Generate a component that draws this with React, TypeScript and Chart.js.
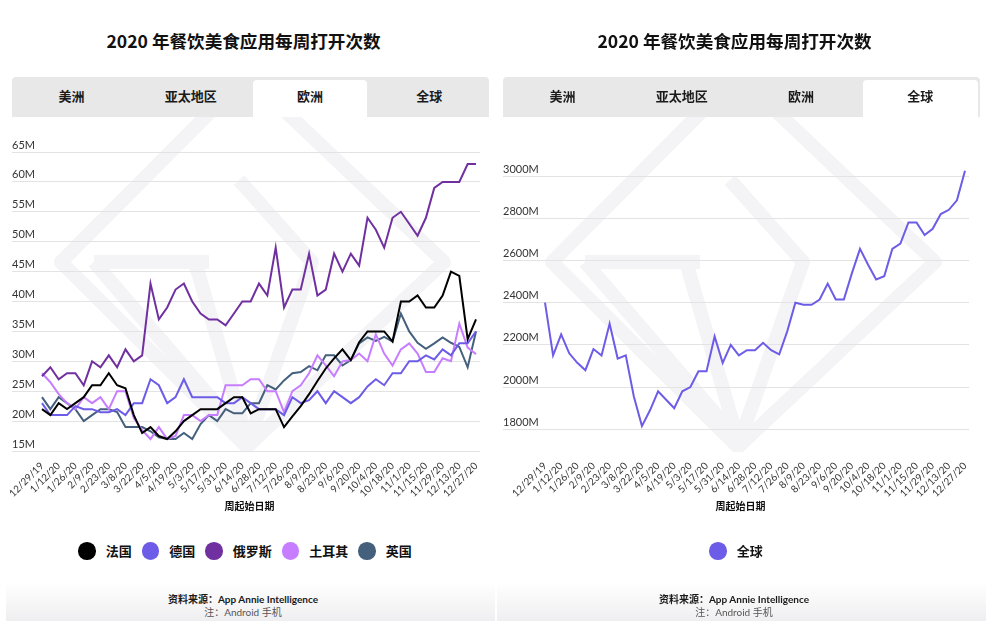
import React, { useEffect, useRef } from "react";
import { Chart, registerables } from "chart.js";

Chart.register(...registerables);

// Week-start dates (every Sunday of 2020)
const weeks = [
  "12/29/19", "1/5/20", "1/12/20", "1/19/20", "1/26/20", "2/2/20", "2/9/20", "2/16/20", "2/23/20", "3/1/20",
  "3/8/20", "3/15/20", "3/22/20", "3/29/20", "4/5/20", "4/12/20", "4/19/20", "4/26/20", "5/3/20", "5/10/20",
  "5/17/20", "5/24/20", "5/31/20", "6/7/20", "6/14/20", "6/21/20", "6/28/20", "7/5/20", "7/12/20", "7/19/20",
  "7/26/20", "8/2/20", "8/9/20", "8/16/20", "8/23/20", "8/30/20", "9/6/20", "9/13/20", "9/20/20", "9/27/20",
  "10/4/20", "10/11/20", "10/18/20", "10/25/20", "11/1/20", "11/8/20", "11/15/20", "11/22/20", "11/29/20", "12/6/20",
  "12/13/20", "12/20/20", "12/27/20",
];

// Weekly opens, millions (Europe)
const franceOpens = [
  22, 21, 23, 22, 23, 24, 26, 26, 28, 26,
  25.5, 21, 18, 19, 17.5, 17, 18.3, 20, 21, 22,
  22, 22, 23, 24, 24, 21.3, 22, 22, 22, 19,
  20.8, 22.5, 24.5, 26.7, 28.8, 30.5, 32, 30.2, 33.2, 35,
  35, 35, 33.3, 40, 40, 41, 39, 39, 41, 45,
  44.3, 33.7, 37,
];
const germanyOpens = [
  23, 21, 21, 21, 22.5, 22, 22, 21.5, 21.5, 22,
  21, 23, 23, 27, 26, 23, 24, 27, 24, 24,
  24, 24, 23, 23, 24, 23, 22, 22, 22, 21,
  24, 23, 23.5, 25, 23, 25, 24, 23, 24, 25.8,
  27, 26, 28, 28, 30, 30, 31, 30.3, 32, 31,
  33, 33, 35,
];
const russiaOpens = [
  27.5, 29, 27, 28, 28, 26, 30, 29, 31, 29,
  32, 30, 31, 43, 37, 39, 42, 43, 40, 38,
  37, 37, 36, 38, 40, 40, 43, 41, 49, 39,
  42, 42, 48, 41, 42, 48, 45, 48, 46, 54,
  52, 49, 54, 55, 53, 51, 54, 59, 60, 60,
  60, 63, 63,
];
const turkeyOpens = [
  28, 26.5, 24.5, 23, 22, 24, 23, 24, 22, 25,
  25, 20.5, 18.5, 17, 19, 17, 17.5, 21, 21, 20,
  21, 21, 26, 26, 26, 27, 27, 25, 25, 21.5,
  25, 26, 28, 31, 29.3, 27.5, 30, 30.2, 31.3, 30,
  34.5, 31.3, 29.3, 32, 33, 31.3, 28.2, 28.2, 30.5, 30,
  36.3, 32.3, 31.2,
];
const ukOpens = [
  24, 22, 24, 23, 22, 20, 21, 22, 22, 21.5,
  19, 19, 19, 18.3, 17.3, 17, 17, 18, 17, 19.5,
  21, 20, 22, 21.3, 21.3, 23, 23, 26, 25.3, 26.8,
  28, 28.2, 29.2, 28.5, 31, 31, 29.3, 30.2, 33, 34,
  33.4, 34.1, 33.3, 38, 35, 33.1, 32.1, 33, 34, 33.1,
  32.4, 29, 35,
];

// Weekly opens, millions (worldwide)
const globalOpens = [
  2400, 2150, 2250, 2160, 2115, 2080, 2180, 2150, 2300, 2135,
  2150, 1955, 1815, 1890, 1980, 1940, 1900, 1980, 2000, 2075,
  2075, 2240, 2115, 2200, 2150, 2175, 2175, 2210, 2175, 2155,
  2265, 2400, 2390, 2390, 2415, 2490, 2415, 2415, 2540, 2655,
  2580, 2510, 2525, 2655, 2680, 2780, 2780, 2720, 2750, 2820,
  2840, 2885, 3025,
];

const europeTicks = [15, 20, 25, 30, 35, 40, 45, 50, 55, 60, 65];
const globalTicks = [1800, 2000, 2200, 2400, 2600, 2800, 3000];

const regionTabs = ["美洲", "亚太地区", "欧洲", "全球"];

const TITLE = "2020 年餐饮美食应用每周打开次数";
const X_TITLE = "周起始日期";
const SOURCE = "资料来源：App Annie Intelligence";
const NOTE = "注：Android 手机";

const LATIN = 'Lato, "Noto Sans CJK SC", sans-serif';
const CJK = '"Noto Sans CJK SC", Lato, sans-serif';

type Series = { label: string; color: string; data: number[] };

const europeSeries: Series[] = [
  { label: "法国", color: "#000000", data: franceOpens },
  { label: "德国", color: "#6c5ce7", data: germanyOpens },
  { label: "俄罗斯", color: "#7030a0", data: russiaOpens },
  { label: "土耳其", color: "#c77dff", data: turkeyOpens },
  { label: "英国", color: "#44607c", data: ukOpens },
];
const globalSeries: Series[] = [{ label: "全球", color: "#6c5ce7", data: globalOpens }];

const GRID = "#e3e3e3";

function setTicks(values: number[]) {
  return (scale: any) => {
    scale.ticks = values.map((v) => ({ value: v }));
  };
}

type ChartProps = {
  series: Series[];
  min: number;
  max: number;
  ticks: number[];
  axisWidth: number;
  padLeft: number;
  padRight: number;
};

function WeeklyChart({ series, min, max, ticks, axisWidth, padLeft, padRight }: ChartProps) {
  const ref = useRef<HTMLCanvasElement>(null);

  useEffect(() => {
    const chart = new Chart(ref.current as HTMLCanvasElement, {
      type: "line",
      data: {
        labels: weeks,
        datasets: series.map((s) => ({
          label: s.label,
          data: s.data,
          borderColor: s.color,
          backgroundColor: s.color,
          borderWidth: 2,
          pointRadius: 0,
          tension: 0,
          fill: false,
        })),
      },
      options: {
        responsive: false,
        animation: false,
        events: [],
        layout: { padding: { left: padLeft, right: padRight, top: 32, bottom: 9 } },
        plugins: { legend: { display: false }, tooltip: { enabled: false } },
        scales: {
          x: {
            type: "category",
            grid: { display: false },
            border: { display: false },
            ticks: {
              autoSkip: false,
              minRotation: 45,
              maxRotation: 45,
              padding: 1,
              color: "#333",
              font: { family: LATIN, size: 10 },
              callback: (_v: any, i: number) => (i % 2 === 0 ? weeks[i] : ""),
            },
            afterFit: (scale: any) => {
              scale.height = 60;
            },
          },
          y: {
            type: "linear",
            position: "left",
            min,
            max,
            afterBuildTicks: setTicks(ticks),
            grid: { color: GRID, lineWidth: 1, drawTicks: true, tickLength: axisWidth },
            border: { display: false },
            ticks: {
              crossAlign: "far",
              labelOffset: -7,
              padding: 0,
              color: "#333",
              font: { family: LATIN, size: 11 },
              callback: (v: any) => `${v}M`,
            },
            afterFit: (scale: any) => {
              scale.width = axisWidth;
            },
          },
          yEdge: {
            type: "linear",
            position: "right",
            min,
            max,
            afterBuildTicks: setTicks(ticks),
            grid: { color: GRID, lineWidth: 1, drawOnChartArea: false, drawTicks: true, tickLength: 4 },
            border: { display: false },
            ticks: { display: false },
            afterFit: (scale: any) => {
              scale.width = 4;
            },
          },
        },
      } as any,
    });
    return () => chart.destroy();
  }, [series, min, max, ticks, axisWidth, padLeft, padRight]);

  return (
    <canvas
      ref={ref}
      width={492}
      height={400}
      style={{ position: "absolute", left: 0, top: 120, width: 492, height: 400 }}
    />
  );
}

// Faint gem-shaped brand mark behind the plot
function GemMark() {
  return (
    <svg
      width={492}
      height={335}
      viewBox="0 117 492 335"
      style={{ position: "absolute", left: 0, top: 117 }}
    >
      <g fill="none" stroke="#f4f4f6" strokeWidth={14} strokeLinejoin="round">
        <polygon points="247,75 444,262 247,447 61,262" />
        <polyline points="94,262 209,262" />
        <polyline points="94,262 247,440 195,262" />
        <polyline points="239,180 312,262 249,440" />
      </g>
    </svg>
  );
}

function Tabs({ active }: { active: number }) {
  const w = 477 / regionTabs.length;
  return (
    <div
      style={{
        position: "absolute",
        left: 12,
        top: 77,
        width: 477,
        height: 40,
        background: "#e8e8e8",
        borderRadius: "4px 4px 0 0",
      }}
    >
      <div
        style={{
          position: "absolute",
          left: active * w + 2.5,
          top: 3,
          width: w - 5,
          height: 37,
          background: "#ffffff",
          borderRadius: "4px 4px 0 0",
        }}
      />
      {regionTabs.map((t, i) => (
        <div
          key={t}
          style={{
            position: "absolute",
            left: i * w,
            top: 10,
            width: w,
            lineHeight: "17px",
            textAlign: "center",
            fontFamily: CJK,
            fontWeight: 700,
            fontSize: 13,
            color: "#1a1a1a",
          }}
        >
          {t}
        </div>
      ))}
    </div>
  );
}

function Legend({ series }: { series: Series[] }) {
  return (
    <div
      style={{
        position: "absolute",
        left: 0,
        top: 542,
        width: 490,
        height: 18,
        display: "flex",
        justifyContent: "center",
        alignItems: "center",
        gap: 10,
      }}
    >
      {series.map((s) => (
        <div key={s.label} style={{ display: "flex", alignItems: "center" }}>
          <span
            style={{
              display: "inline-block",
              width: 17.5,
              height: 17.5,
              borderRadius: "50%",
              background: s.color,
              marginRight: 10,
            }}
          />
          <span
            style={{
              fontFamily: CJK,
              fontWeight: 700,
              fontSize: 13,
              lineHeight: "18px",
              color: "#111",
            }}
          >
            {s.label}
          </span>
        </div>
      ))}
    </div>
  );
}

type PanelProps = {
  x: number;
  active: number;
  series: Series[];
  min: number;
  max: number;
  ticks: number[];
  axisWidth: number;
  padLeft: number;
  padRight: number;
};

function Panel(p: PanelProps) {
  return (
    <div style={{ position: "absolute", left: p.x, top: 0, width: 492, height: 640 }}>
      <div
        style={{
          position: "absolute",
          left: 6,
          top: 582,
          width: 489,
          height: 39,
          background: "linear-gradient(to bottom, #ffffff 0%, #f6f6f7 55%, #efeff1 100%)",
        }}
      />
      <div
        style={{
          position: "absolute",
          left: 0,
          top: 30,
          width: 487,
          lineHeight: "22px",
          textAlign: "center",
          fontFamily: CJK,
          fontWeight: 700,
          fontSize: 17.6,
          color: "#111",
        }}
      >
        {TITLE}
      </div>
      <GemMark />
      <Tabs active={p.active} />
      <WeeklyChart
        series={p.series}
        min={p.min}
        max={p.max}
        ticks={p.ticks}
        axisWidth={p.axisWidth}
        padLeft={p.padLeft}
        padRight={p.padRight}
      />
      <div
        style={{
          position: "absolute",
          left: 0,
          top: 499,
          width: 499,
          lineHeight: "14px",
          textAlign: "center",
          fontFamily: CJK,
          fontWeight: 700,
          fontSize: 10,
          color: "#111",
        }}
      >
        {X_TITLE}
      </div>
      <Legend series={p.series} />
      <div
        style={{
          position: "absolute",
          left: 0,
          top: 593,
          width: 486,
          textAlign: "center",
          fontFamily: LATIN,
          fontSize: 10,
          lineHeight: "13px",
        }}
      >
        <div style={{ fontWeight: 700, color: "#1a1a1a" }}>{SOURCE}</div>
        <div style={{ color: "#555" }}>{NOTE}</div>
      </div>
    </div>
  );
}

export default function App() {
  return (
    <div
      style={{
        position: "absolute",
        left: 0,
        top: 0,
        width: 992,
        height: 640,
        background: "#ffffff",
        overflow: "hidden",
      }}
    >
      <Panel
        x={0}
        active={2}
        series={europeSeries}
        min={15}
        max={65}
        ticks={europeTicks}
        axisWidth={30}
        padLeft={12}
        padRight={12}
      />
      <Panel
        x={491}
        active={3}
        series={globalSeries}
        min={1697}
        max={3114}
        ticks={globalTicks}
        axisWidth={42}
        padLeft={12}
        padRight={14}
      />
    </div>
  );
}
